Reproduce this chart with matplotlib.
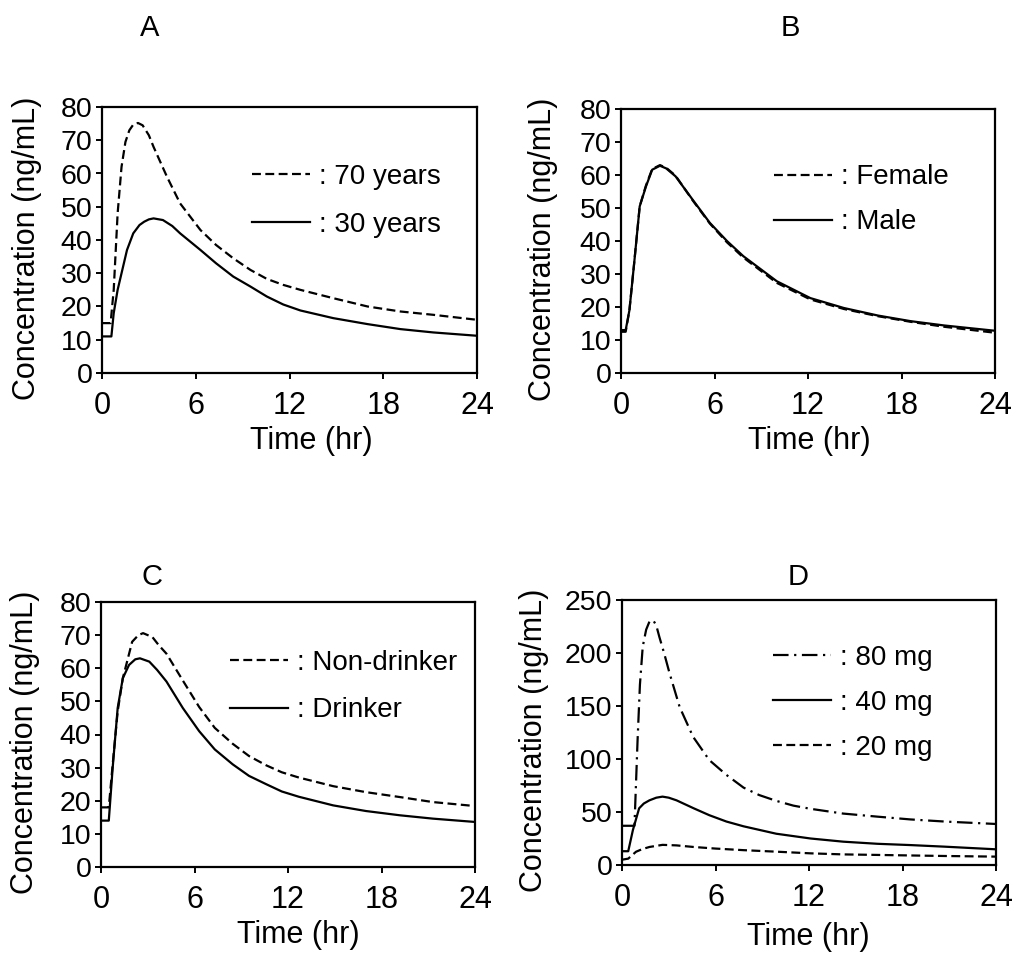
import numpy as np
import matplotlib
matplotlib.use('Agg')
import matplotlib.pyplot as plt

plt.rcParams['font.family'] = ['Liberation Sans', 'DejaVu Sans']

W, H = 1022, 955

# ---- panel A : age
tA_old = [0, 0.55, 0.75, 1.0, 1.25, 1.5, 1.75, 2.0, 2.3, 2.6, 3.0, 3.3, 4.16, 5.0, 6.3, 7.3, 8.4, 9.5,
          10.55, 11.6, 12.7, 14.8, 17, 19.1, 21.2, 24]
cA_old = [15, 15, 25, 48, 62, 69.5, 73, 74.7, 75.2, 74.5, 71.5, 68, 59, 51, 43, 38.5, 34.5, 31,
          28.3, 26.5, 25, 22.5, 20, 18.5, 17.5, 16]
tA_young = [0, 0.6, 0.75, 1.0, 1.2, 1.6, 2.0, 2.4, 2.7, 3.0, 3.3, 3.9, 4.5, 5.0, 6.3, 7.3, 8.4, 9.5,
            10.55, 11.6, 12.7, 14.8, 17, 19.1, 21.2, 24]
cA_young = [11, 11, 18, 25, 29, 37, 42, 44.5, 45.5, 46.2, 46.5, 46, 44.2, 42, 37, 33, 29, 26,
            23, 20.6, 18.8, 16.5, 14.7, 13.2, 12.2, 11.2]

# ---- panel B : sex
tB = [0, 0.3, 0.54, 0.86, 1.2, 1.6, 2.0, 2.5, 2.9, 3.5, 4.6, 5.7, 6.8, 7.85, 10, 12.15, 14.3, 16.5,
      18.6, 20.75, 24]
cB_male = [13, 13, 19, 34, 50.5, 56.5, 61.6, 62.8, 62, 59.6, 52.5, 45.5, 40, 35.4, 27.8, 22.7, 19.7,
           17.4, 15.7, 14.4, 12.8]
cB_female = [12.5, 12.5, 19, 34, 50.5, 56.8, 61.8, 63, 62.2, 59.8, 52.3, 45.3, 39.6, 35, 27.3, 22.3,
             19.4, 17.2, 15.5, 14, 12.2]

# ---- panel C : drinking
tC_drink = [0, 0.5, 0.75, 1.07, 1.4, 1.8, 2.2, 2.5, 3.1, 3.6, 4.2, 5.25, 6.3, 7.3, 8.45, 9.5, 10.6,
            11.6, 12.7, 14.9, 17, 19.2, 21.3, 24]
cC_drink = [14, 14, 30, 48, 57, 61, 62.7, 63, 62, 59.5, 56, 48, 41, 35.5, 31, 27.5, 25, 22.8, 21.2,
            18.6, 16.9, 15.6, 14.6, 13.6]
tC_non = [0, 0.5, 0.75, 1.07, 1.4, 2.0, 2.4, 2.7, 3.3, 3.7, 4.2, 5.25, 6.3, 7.3, 8.45, 9.5, 10.6,
          11.6, 12.7, 14.9, 17, 19.2, 21.3, 24]
cC_non = [18, 18, 31, 47, 57, 68, 70, 70.6, 69.4, 67, 64.4, 56.3, 48.3, 42, 37.2, 33.5, 30.7, 28.6,
          27, 24.4, 22.6, 21.1, 19.6, 18.4]

# ---- panel D : dose
tD_80 = [0, 0.8, 1.0, 1.15, 1.33, 1.55, 1.76, 2.0, 2.2, 2.4, 2.7, 3.05, 3.7, 4.56, 5.6, 6.7, 7.8,
         8.8, 9.9, 11.0, 12.1, 14.2, 16.4, 18.5, 20.7, 24]
cD_80 = [37, 37, 118, 170, 206, 222, 229.6, 231, 226, 215, 200, 181, 149, 121, 99, 85, 73, 66,
         60.5, 56, 53, 48.5, 45.6, 43, 41, 38.7]
tD_40 = [0, 0.4, 0.7, 1.1, 1.4, 1.76, 2.2, 2.6, 3.0, 3.5, 4.6, 5.6, 6.7, 7.8, 9.9, 12.1, 14.2, 16.4,
         18.5, 20.7, 24]
cD_40 = [13, 13, 33, 53.5, 58, 61, 63.5, 64.5, 63.5, 61, 53.5, 47, 41, 36.5, 29.5, 25, 22, 20, 18.8,
         17.3, 14.8]
tD_20 = [0, 0.4, 0.9, 1.3, 1.76, 2.6, 3.5, 4.6, 6.0, 7.8, 10.0, 12.1, 14.2, 16.4, 18.5, 20.7, 24]
cD_20 = [5, 6, 12.5, 15, 17, 19, 18.5, 17, 15.5, 14, 12.5, 11, 10, 9.5, 9, 8.5, 7.9]

xticks = [0, 6, 12, 18, 24]

DASH = (0, (4, 2))
DASHDOT = (0, (7, 2.5, 1, 2.5))

fig = plt.figure(figsize=(W / 100, H / 100), dpi=100)


def make_ax(l, r, t, b):
    return fig.add_axes([l / W, 1 - b / H, (r - l) / W, (b - t) / H])


def style(ax, ymax, ystep, ylab_x, xlab_xy, leg_xy, spacing):
    ax.set_xlim(0, 24)
    ax.set_ylim(0, ymax)
    ax.set_xticks(xticks)
    ax.set_yticks(np.arange(0, ymax + 1, ystep))
    for s in ax.spines.values():
        s.set_linewidth(1.6)
    ax.tick_params(axis='both', direction='out', length=4, width=1.4)
    ax.tick_params(axis='x', labelsize=22, pad=9)
    ax.tick_params(axis='y', labelsize=20.5, pad=3)
    ax.set_ylabel('Concentration (ng/mL)', fontsize=22)
    ax.yaxis.set_label_coords(ylab_x, 0.47)
    ax.set_xlabel('Time (hr)', fontsize=22)
    ax.xaxis.set_label_coords(*xlab_xy)
    ax.legend(loc='upper left', bbox_to_anchor=leg_xy, frameon=False, fontsize=20,
              handlelength=2.1, handletextpad=0.3, labelspacing=spacing,
              borderpad=0, borderaxespad=0)


lw = 1.6

axA = make_ax(102, 477, 107, 373)
axA.plot(tA_old, cA_old, color='k', lw=lw, ls=DASH, label=': 70 years')
axA.plot(tA_young, cA_young, color='k', lw=lw, label=': 30 years')
style(axA, 80, 10, -0.16, (0.557, -0.2), (0.40, 0.785), 0.78)

axB = make_ax(621, 995, 109, 373)
axB.plot(tB, cB_female, color='k', lw=lw, ls=DASH, label=': Female')
axB.plot(tB, cB_male, color='k', lw=lw, label=': Male')
style(axB, 80, 10, -0.168, (0.503, -0.2), (0.409, 0.79), 0.68)

axC = make_ax(101, 475, 602, 867)
axC.plot(tC_non, cC_non, color='k', lw=lw, ls=DASH, label=': Non-drinker')
axC.plot(tC_drink, cC_drink, color='k', lw=lw, label=': Drinker')
style(axC, 80, 10, -0.163, (0.527, -0.2), (0.345, 0.82), 0.78)

axD = make_ax(622, 996, 600, 865)
axD.plot(tD_80, cD_80, color='k', lw=lw, ls=DASHDOT, label=': 80 mg')
axD.plot(tD_40, cD_40, color='k', lw=lw, label=': 40 mg')
axD.plot(tD_20, cD_20, color='k', lw=lw, ls=DASH, label=': 20 mg')
style(axD, 250, 50, -0.195, (0.497, -0.215), (0.404, 0.83), 0.68)

for lab, x, y in [('A', 150, 28), ('B', 790, 28), ('C', 152, 577), ('D', 798, 577)]:
    fig.text(x / W, 1 - y / H, lab, fontsize=21, ha='center', va='center')

fig.savefig('out.png', dpi=100)
